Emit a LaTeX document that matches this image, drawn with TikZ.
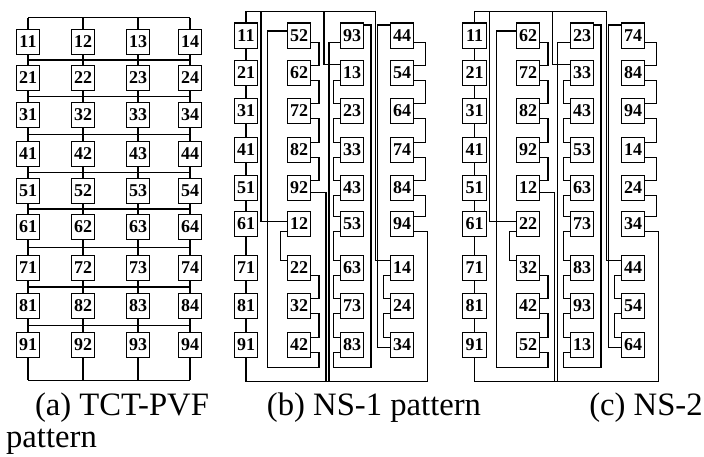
\documentclass[tikz,border=0pt]{standalone}
\usepackage{fontspec}
\setmainfont{Liberation Serif}
\usetikzlibrary{calc}

\tikzset{
  pv/.style={draw, line width=1pt, minimum width=17.6pt, minimum height=19pt,
    inner sep=0pt, font=\fontsize{13.5}{15}\selectfont\bfseries},
  wire/.style={line width=0.9pt},
  captext/.style={anchor=base, inner sep=0pt, font=\fontsize{24.5}{30}\selectfont}
}

% wiring shared by the NS-1 and NS-2 panels
\newcommand{\nswiring}[1]{%
  % buses
  \draw[wire] (#1-1-1.north) -- ++(0,-11) coordinate (#1top)
    -| ($(#1-7-4.150)+(-14,0)$) -- (#1-7-4.150);
  \draw[wire] (#1-9-1.south) -- ++(0,23) coordinate (#1bot)
    -| ($(#1-6-4.-30)+(13,0)$) -- (#1-6-4.-30);
  \draw[wire] ($(#1top)+(15,0)$) |- (#1-6-2.170);
  \draw[wire] ($(#1top)+(78,0)$) |- (#1-2-3.145);
  \draw[wire] (#1-5-2.-20) -| ($(#1bot)+(80,0)$);
  \draw[wire] (#1-1-3.210) -| ($(#1bot)+(83,0)$);
  % long loops
  \draw[wire] (#1-1-2.160) -| ($(#1-9-2.south west)+(-19,9)$)
    -| ($(#1-9-2.-30)+(7.5,0)$) -- (#1-9-2.-30);
  \draw[wire] (#1-1-3.40) -| ($(#1-9-3.south east)+(6.5,9)$)
    -| ($(#1-9-3.210)+(-6.5,0)$) -- (#1-9-3.210);
  \draw[wire] (#1-1-4.140) -- ++(-12,0) |- (#1-9-4.190);
  % chains inside the columns
  \foreach \row [evaluate=\row as \nxt using int(\row+1)] in {1,...,8}
    \draw[wire] (#1-\row-1) -- (#1-\nxt-1);
  \foreach \row [evaluate=\row as \nxt using int(\row+1)] in {1,2,3,4,7,8}
    \draw[wire] (#1-\row-2.-30) -- ++(7.5,0) |- (#1-\nxt-2.30);
  \draw[wire] (#1-6-2.210) -- ++(-6,0) |- (#1-7-2.150);
  \foreach \row [evaluate=\row as \nxt using int(\row+1)] in {2,...,8}
    \draw[wire] (#1-\row-3.210) -- ++(-6.5,0) |- (#1-\nxt-3.150);
  \foreach \row [evaluate=\row as \nxt using int(\row+1)] in {1,...,5}
    \draw[wire] (#1-\row-4.-30) -- ++(11,0) |- (#1-\nxt-4.30);
  \foreach \row [evaluate=\row as \nxt using int(\row+1)] in {7,8}
    \draw[wire] (#1-\row-4.210) -- ++(-6.5,0) |- (#1-\nxt-4.150);
}

\begin{document}
\begin{tikzpicture}[x=0.75pt,y=-0.75pt]
  \useasboundingbox (0,0) rectangle (704,457);

  % (a) TCT-PVF
  \foreach \x [count=\col] in {28,83,138,190}
    \foreach \y [count=\row] in {42,78,115,154,191,227,268,306,345}
      \node[pv] (a-\row-\col) at (\x,\y) {\row\col};
  \foreach \col in {1,...,4} {
    \draw[wire] (a-1-\col.north) -- ++(0,-11);
    \draw[wire] (a-9-\col.south) -- ++(0,22);
    \foreach \row [evaluate=\row as \nxt using int(\row+1)] in {1,...,8}
      \draw[wire] (a-\row-\col) -- (a-\nxt-\col);
  }
  \foreach \row [evaluate=\row as \nxt using int(\row+1)] in {1,...,8}
    \draw[wire] ($(a-\row-1)!0.5!(a-\nxt-1)$) -- ($(a-\row-4)!0.5!(a-\nxt-4)$);
  \draw[wire] ($(a-1-1.north)+(0,-11)$) -- ($(a-1-4.north)+(0,-11)$);
  \draw[wire] ($(a-9-1.south)+(0,22)$) -- ($(a-9-4.south)+(0,22)$);

  % (b) NS-1
  \foreach \x/\labs [count=\col] in {246/{11,21,31,41,51,61,71,81,91},
      299/{52,62,72,82,92,12,22,32,42}, 352/{93,13,23,33,43,53,63,73,83},
      402/{44,54,64,74,84,94,14,24,34}}
    \foreach \lab [count=\row] in \labs {
      \pgfmathsetmacro\yy{{35.5,73,111,150,188,224,268,306,345}[\row-1]}
      \node[pv] (b-\row-\col) at (\x,\yy) {\lab};
    }
  \nswiring{b}

  % (c) NS-2
  \foreach \x/\labs [count=\col] in {474.5/{11,21,31,41,51,61,71,81,91},
      528/{62,72,82,92,12,22,32,42,52}, 582/{23,33,43,53,63,73,83,93,13},
      633/{74,84,94,14,24,34,44,54,64}}
    \foreach \lab [count=\row] in \labs {
      \pgfmathsetmacro\yy{{35.5,73,111,150,188,224,268,306,345}[\row-1]}
      \node[pv] (c-\row-\col) at (\x,\yy) {\lab};
    }
  \nswiring{c}

  % captions
  \node[captext] (capa) at (122,415) {(a) TCT-PVF};
  \node[captext] (capb) at (374,415) {(b) NS-1 pattern};
  \node[captext] (capc) at (646,415) {(c) NS-2};
  \node[captext] (capd) at (51.5,447) {pattern};
\end{tikzpicture}
\end{document}
